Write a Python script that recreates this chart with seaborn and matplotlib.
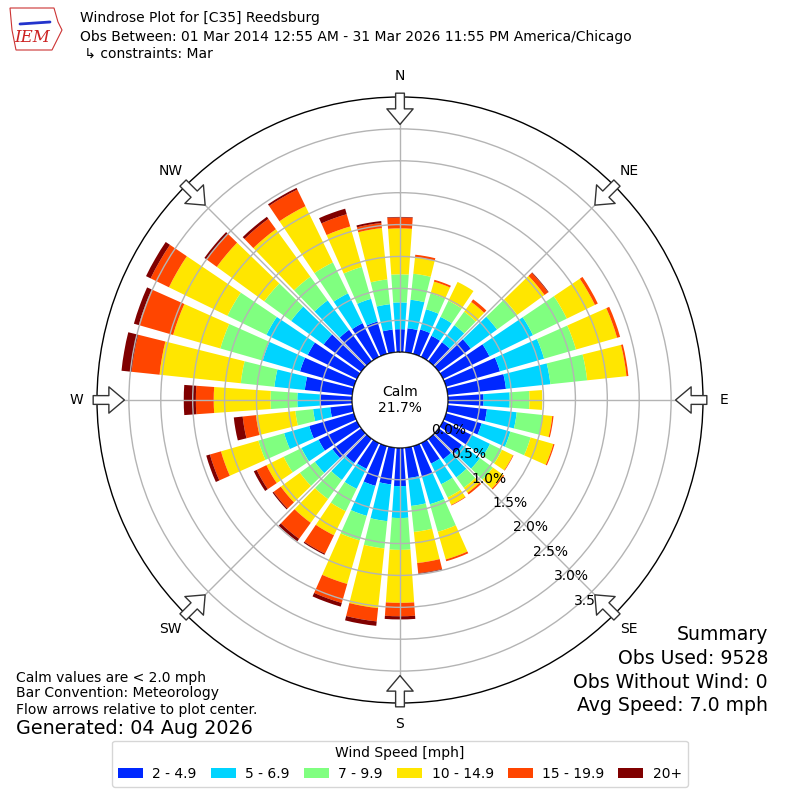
import numpy as np
import matplotlib
matplotlib.use("Agg")
import matplotlib.pyplot as plt
from matplotlib.patches import Circle, Polygon
import seaborn as sns

sns.set_style("white")
plt.rcParams["font.family"] = ["DejaVu Sans"]
plt.rcParams["text.color"] = "black"

# wind directions (deg, where wind comes from)
directions = list(range(0, 360, 10))

# frequency (%) per speed bin, one value per direction
speed_2_5 = [0.36, 0.38, 0.40, 0.37, 0.37, 0.62, 0.81, 0.88, 0.92, 0.56, 0.62, 0.58,
             0.50, 0.45, 0.40, 0.36, 0.50, 0.48, 0.60, 0.58, 0.65, 0.45, 0.47, 0.56,
             0.67, 0.73, 0.35, 0.50, 0.75, 0.88, 0.86, 0.73, 0.61, 0.59, 0.53, 0.36]
speed_5_7 = [0.42, 0.45, 0.33, 0.33, 0.33, 0.51, 0.76, 0.72, 0.70, 0.41, 0.47, 0.47,
             0.32, 0.35, 0.35, 0.36, 0.45, 0.44, 0.50, 0.58, 0.49, 0.35, 0.33, 0.34,
             0.30, 0.41, 0.27, 0.36, 0.48, 0.61, 0.72, 0.63, 0.57, 0.52, 0.37, 0.40]
speed_7_10 = [0.44, 0.41, 0.26, 0.28, 0.26, 0.39, 0.59, 0.52, 0.58, 0.31, 0.41, 0.33,
              0.21, 0.25, 0.20, 0.23, 0.45, 0.41, 0.50, 0.43, 0.40, 0.39, 0.37, 0.29,
              0.31, 0.42, 0.28, 0.42, 0.53, 0.69, 0.68, 0.52, 0.46, 0.54, 0.52, 0.39]
speed_10_15 = [0.72, 0.26, 0.19, 0.33, 0.19, 0.53, 0.49, 0.67, 0.62, 0.20, 0.15, 0.37,
               0.19, 0.20, 0.10, 0.13, 0.45, 0.49, 0.83, 0.94, 0.71, 0.42, 0.46, 0.37,
               0.30, 0.61, 0.62, 0.89, 1.28, 0.77, 1.02, 0.92, 0.92, 0.98, 0.66, 0.81]
speed_15_20 = [0.17, 0.04, 0.03, 0.00, 0.05, 0.07, 0.05, 0.05, 0.03, 0.00, 0.02, 0.02,
               0.01, 0.02, 0.03, 0.01, 0.03, 0.16, 0.21, 0.21, 0.31, 0.32, 0.31, 0.14,
               0.17, 0.18, 0.21, 0.28, 0.44, 0.56, 0.32, 0.20, 0.20, 0.29, 0.20, 0.08]
speed_20_up = [0.01, 0.00, 0.00, 0.00, 0.00, 0.01, 0.00, 0.00, 0.00, 0.00, 0.00, 0.00,
               0.00, 0.00, 0.00, 0.00, 0.00, 0.01, 0.05, 0.07, 0.06, 0.02, 0.05, 0.02,
               0.05, 0.06, 0.14, 0.19, 0.16, 0.08, 0.08, 0.04, 0.04, 0.03, 0.09, 0.03]

bin_labels = ["2 - 4.9", "5 - 6.9", "7 - 9.9", "10 - 14.9", "15 - 19.9", "20+"]
bin_values = [speed_2_5, speed_5_7, speed_7_10, speed_10_15, speed_15_20, speed_20_up]
palette = sns.color_palette(["#0028ff", "#00d4ff", "#80ff80", "#ffe600", "#ff4500", "#800000"])

calm_pct = 21.7
ring_ticks = [0.5, 1.0, 1.5, 2.0, 2.5, 3.0, 3.5]
ring_labels = [0.0, 0.5, 1.0, 1.5, 2.0, 2.5, 3.0, 3.5]
compass = ["N", "NE", "E", "SE", "S", "SW", "W", "NW"]

fig = plt.figure(figsize=(8, 8), dpi=100)
ax = fig.add_axes([97 / 800, 97 / 800, 606 / 800, 606 / 800], projection="polar")
ax.set_theta_zero_location("N")
ax.set_theta_direction(-1)

theta = np.radians(directions)
bottom = np.zeros(len(directions))
handles = []
for vals, col, lab in zip(bin_values, palette, bin_labels):
    b = ax.bar(theta, vals, width=np.radians(8), bottom=bottom, color=col,
               edgecolor="none", zorder=2, label=lab)
    handles.append(b)
    bottom = bottom + np.array(vals)

ax.set_ylim(0, 4.0)
ax.set_rorigin(-0.75)
ax.set_xticks(np.radians(np.arange(0, 360, 45)))
ax.set_xticklabels([])
ax.set_yticks(ring_ticks)
ax.set_yticklabels([])
ax.grid(True, color="#b4b4b4", lw=1)
ax.set_axisbelow(False)
ax.spines["polar"].set_color("black")
ax.spines["polar"].set_linewidth(1)

# calm circle in the middle
ax.add_patch(Circle((0.5, 0.5), 0.0789, transform=ax.transAxes, facecolor="white",
                    edgecolor="black", lw=1, zorder=5))
ax.text(0.5, 0.5, f"Calm\n{calm_pct}%", transform=ax.transAxes, ha="center",
        va="center", fontsize=10, zorder=6)

for r in ring_labels:
    ax.text(np.radians(140), r, f"{r:.1f}%", ha="left", va="bottom", fontsize=10, zorder=7)

# flow arrows + compass labels
for i, name in enumerate(compass):
    ang = np.radians(i * 45)
    ax.annotate("", xy=(ang, 3.57), xytext=(ang, 4.06), annotation_clip=False,
                arrowprops=dict(arrowstyle="simple,head_length=0.8,head_width=1.35,tail_width=0.45",
                                fc="white", ec="#333333", lw=1, mutation_scale=14,
                                shrinkA=0, shrinkB=0), zorder=8)
    ax.text(ang, 4.33, name, ha="center", va="center", fontsize=10, clip_on=False)

# header
fig.text(0.1, 1 - 18 / 800, "Windrose Plot for [C35] Reedsburg", fontsize=10, va="center")
fig.text(0.1, 1 - 37 / 800, "Obs Between: 01 Mar 2014 12:55 AM - 31 Mar 2026 11:55 PM America/Chicago",
         fontsize=10, va="center")
fig.text(0.1, 1 - 54 / 800, " \u21b3 constraints: Mar", fontsize=10, va="center")

# rough IEM logo
fig.patches.append(Polygon([[10 / 800, 1 - 8 / 800], [54 / 800, 1 - 8 / 800], [58 / 800, 1 - 22 / 800],
                            [62 / 800, 1 - 30 / 800], [56 / 800, 1 - 42 / 800], [52 / 800, 1 - 50 / 800],
                            [16 / 800, 1 - 50 / 800], [12 / 800, 1 - 30 / 800]],
                           closed=True, fill=False, ec="#cc3333", lw=0.8, transform=fig.transFigure))
fig.add_artist(plt.Line2D([20 / 800, 50 / 800], [1 - 24 / 800, 1 - 22 / 800], color="#2233cc",
                          lw=2, transform=fig.transFigure))
fig.text(32 / 800, 1 - 38 / 800, "IEM", fontsize=12, color="#cc2222", style="italic",
         family="DejaVu Serif", ha="center", va="center")

# footer notes
fig.text(16 / 800, 1 - 678 / 800, "Calm values are < 2.0 mph", fontsize=10, va="center")
fig.text(16 / 800, 1 - 693 / 800, "Bar Convention: Meteorology", fontsize=10, va="center")
fig.text(16 / 800, 1 - 710 / 800, "Flow arrows relative to plot center.", fontsize=10, va="center")
fig.text(16 / 800, 1 - 729 / 800, "Generated: 04 Aug 2026", fontsize=13.8, va="center")

summary = ["Summary", "Obs Used: 9528", "Obs Without Wind: 0", "Avg Speed: 7.0 mph"]
for k, line in enumerate(summary):
    fig.text(768 / 800, 1 - (635 + k * 23.5) / 800, line, fontsize=13.6, ha="right", va="center")

fig.legend(handles=handles, labels=bin_labels, loc="lower center", bbox_to_anchor=(0.5, 0.008),
           ncol=6, title="Wind Speed [mph]", fontsize=10, title_fontsize=10, frameon=True,
           handlelength=1.8, columnspacing=1.0, handletextpad=0.7)

fig.savefig("out.png", dpi=100)
